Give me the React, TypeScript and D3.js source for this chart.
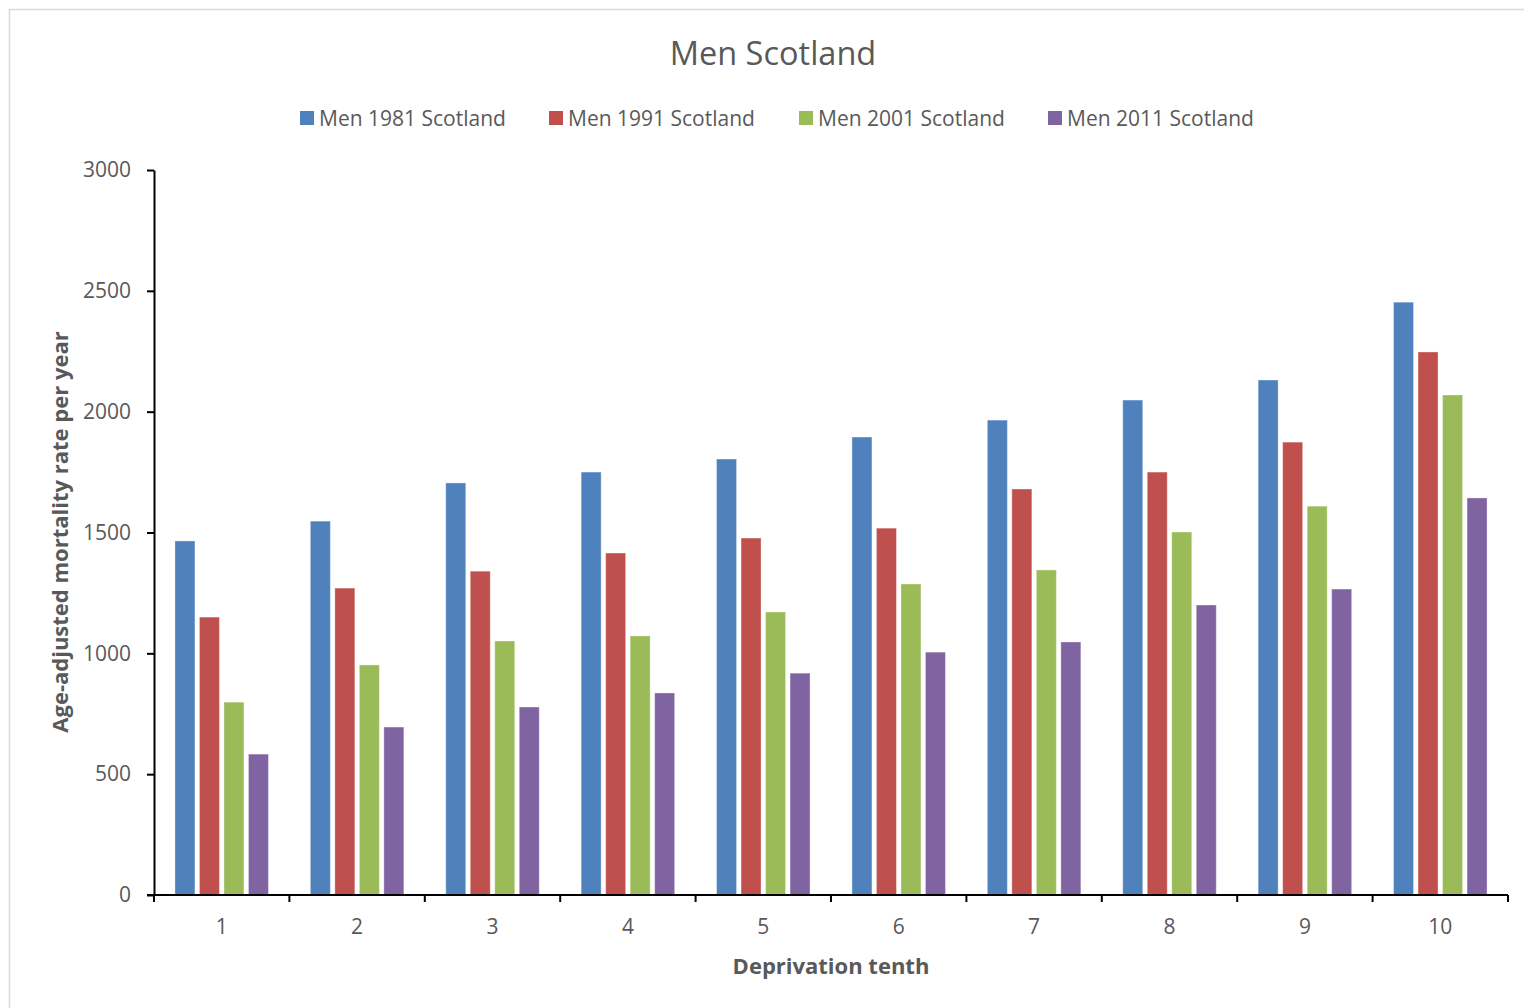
import { useEffect, useRef } from "react";
import * as d3 from "d3";

const categories = ["1", "2", "3", "4", "5", "6", "7", "8", "9", "10"];
const seriesNames = [
  "Men 1981 Scotland",
  "Men 1991 Scotland",
  "Men 2001 Scotland",
  "Men 2011 Scotland",
];
const seriesColors = ["#4f81bd", "#c0504d", "#9bbb59", "#8064a2"];

const men1981 = [1465, 1547, 1705, 1750, 1804, 1895, 1965, 2048, 2131, 2453];
const men1991 = [1150, 1270, 1340, 1415, 1477, 1518, 1680, 1750, 1874, 2247];
const men2001 = [798, 952, 1051, 1072, 1171, 1287, 1345, 1502, 1609, 2069];
const men2011 = [583, 695, 778, 836, 918, 1005, 1047, 1200, 1266, 1643];
const seriesValues = [men1981, men1991, men2001, men2011];

const yTicks = [0, 500, 1000, 1500, 2000, 2500, 3000];

const WIDTH = 1524;
const HEIGHT = 1008;
const FONT = "'Open Sans', 'DejaVu Sans', sans-serif";
const TEXT = "#595959";

type Cell = { cat: string; series: string; value: number; color: string };

export default function App() {
  const svgRef = useRef<SVGSVGElement | null>(null);

  useEffect(() => {
    if (!svgRef.current) return;
    const svg = d3.select(svgRef.current);
    svg.selectAll("*").remove();

    const plot = { left: 154, right: 1508, top: 170, bottom: 895 };

    // frame
    svg
      .append("rect")
      .attr("x", 9.5)
      .attr("y", 9.5)
      .attr("width", WIDTH)
      .attr("height", HEIGHT)
      .attr("fill", "#fff")
      .attr("stroke", "#d9d9d9")
      .attr("stroke-width", 1.5);

    const x0 = d3
      .scaleBand<string>()
      .domain(categories)
      .range([plot.left, plot.right])
      .padding(0);
    const x1 = d3
      .scaleBand<string>()
      .domain(seriesNames)
      .range([0, x0.bandwidth()])
      .paddingInner(0.184)
      .paddingOuter(0.855);
    const y = d3
      .scaleLinear()
      .domain([0, 3000])
      .range([plot.bottom, plot.top]);

    // title
    svg
      .append("text")
      .attr("x", 773)
      .attr("y", 65)
      .attr("text-anchor", "middle")
      .attr("font-family", FONT)
      .attr("font-size", 32.5)
      .attr("fill", TEXT)
      .text("Men Scotland");

    // legend
    const legendX = [300, 549, 799, 1048];
    const legend = svg
      .selectAll("g.legend")
      .data(seriesNames)
      .enter()
      .append("g")
      .attr("class", "legend")
      .attr("transform", (_d, i) => `translate(${legendX[i]},118)`);
    legend
      .append("rect")
      .attr("x", 0)
      .attr("y", -7)
      .attr("width", 14)
      .attr("height", 14)
      .attr("fill", (_d, i) => seriesColors[i]);
    legend
      .append("text")
      .attr("x", 19)
      .attr("y", 7.5)
      .attr("font-family", FONT)
      .attr("font-size", 21)
      .attr("fill", TEXT)
      .text((d) => d);

    // bars
    const cells: Cell[] = [];
    categories.forEach((cat, ci) => {
      seriesNames.forEach((s, si) => {
        cells.push({
          cat,
          series: s,
          value: seriesValues[si][ci],
          color: seriesColors[si],
        });
      });
    });

    svg
      .append("g")
      .selectAll("rect")
      .data(cells)
      .enter()
      .append("rect")
      .attr("x", (d) => (x0(d.cat) || 0) + (x1(d.series) || 0))
      .attr("y", (d) => y(d.value))
      .attr("width", x1.bandwidth())
      .attr("height", (d) => y(0) - y(d.value))
      .attr("fill", (d) => d.color)
      .attr("stroke", "rgba(255,255,255,0.35)")
      .attr("stroke-width", 1);

    // y axis
    const yAxis = svg
      .append("g")
      .attr("transform", `translate(${plot.left},0)`)
      .call(
        d3
          .axisLeft(y)
          .tickValues(yTicks)
          .tickFormat(d3.format("d"))
          .tickSize(7)
          .tickPadding(16)
          .tickSizeOuter(0)
      );
    yAxis.select(".domain").attr("stroke", "#000").attr("stroke-width", 2);
    yAxis.selectAll(".tick line").attr("stroke", "#000").attr("stroke-width", 2);
    yAxis
      .selectAll("text")
      .attr("font-family", FONT)
      .attr("font-size", 21)
      .attr("fill", TEXT);

    // x axis (labels centred, ticks at boundaries)
    const xAxis = svg
      .append("g")
      .attr("transform", `translate(0,${plot.bottom})`)
      .call(d3.axisBottom(x0).tickSize(0).tickPadding(24).tickSizeOuter(0));
    xAxis.select(".domain").remove();
    xAxis
      .selectAll("text")
      .attr("font-family", FONT)
      .attr("font-size", 21)
      .attr("fill", TEXT);

    const bounds = [...categories.map((c) => x0(c) || 0), plot.right];
    svg
      .append("line")
      .attr("x1", plot.left - 7)
      .attr("x2", plot.right)
      .attr("y1", plot.bottom)
      .attr("y2", plot.bottom)
      .attr("stroke", "#000")
      .attr("stroke-width", 2);
    svg
      .append("g")
      .selectAll("line")
      .data(bounds)
      .enter()
      .append("line")
      .attr("x1", (d) => d)
      .attr("x2", (d) => d)
      .attr("y1", plot.bottom)
      .attr("y2", plot.bottom + 7)
      .attr("stroke", "#000")
      .attr("stroke-width", 2);

    // axis titles
    svg
      .append("text")
      .attr("x", 831)
      .attr("y", 974)
      .attr("text-anchor", "middle")
      .attr("font-family", FONT)
      .attr("font-weight", "bold")
      .attr("font-size", 22)
      .attr("fill", TEXT)
      .text("Deprivation tenth");

    svg
      .append("text")
      .attr("transform", "translate(68,532) rotate(-90)")
      .attr("text-anchor", "middle")
      .attr("font-family", FONT)
      .attr("font-weight", "bold")
      .attr("font-size", 22)
      .attr("fill", TEXT)
      .text("Age-adjusted mortality rate per year");
  }, []);

  return (
    <svg
      ref={svgRef}
      width={WIDTH}
      height={HEIGHT}
      style={{ position: "absolute", left: 0, top: 0 }}
    />
  );
}
